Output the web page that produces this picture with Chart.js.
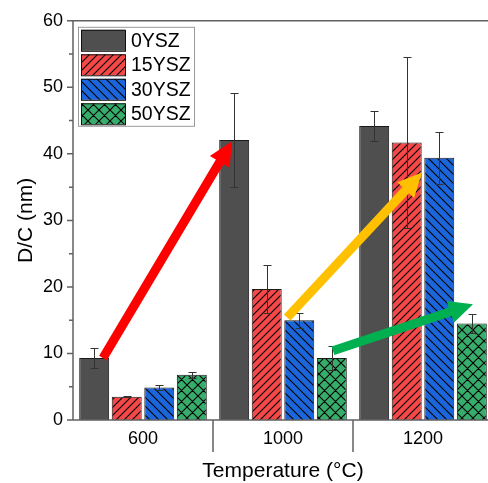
<!DOCTYPE html>
<html>
<head>
<meta charset="utf-8">
<script src="https://cdn.jsdelivr.net/npm/chart.js@4"></script>
<style>
  html, body { margin: 0; padding: 0; overflow: hidden; background: #fff; }
  #wrap { width: 500px; height: 483px; }
</style>
</head>
<body>
<div id="wrap"><canvas id="chart" width="500" height="483"></canvas></div>
<script>
// ------------------------
// Data
// ------------------------
const temps = ['600', '1000', '1200']
const seriesNames = ['0YSZ', '15YSZ', '30YSZ', '50YSZ']

const ysz0 = [9.3, 42.1, 44.2]
const ysz15 = [3.5, 19.7, 41.7]
const ysz30 = [4.9, 15.0, 39.4]
const ysz50 = [6.8, 9.3, 14.5]

const err0 = [1.5, 7.1, 2.3]
const err15 = [0.1, 3.6, 12.8]
const err30 = [0.35, 1.1, 3.9]
const err50 = [0.45, 1.8, 1.4]

const yTicks = [0, 10, 20, 30, 40, 50, 60]

// arrows, in [category position, value]
const arrowColors = ['#ff0000', '#ffc000', '#00b050']
const arrowFrom = [[-0.286, 9.3], [1.03, 15.4], [1.357, 10.4]]
const arrowTo = [[0.636, 41.9], [1.993, 37.2], [2.357, 17.4]]

const FONT = "'Liberation Sans', Arial, sans-serif"

// ------------------------
// Helpers
// ------------------------
const hatch = (bg, size, dirs) => {
  const c = document.createElement('canvas')
  c.width = c.height = size
  const g = c.getContext('2d')
  g.fillStyle = bg
  g.fillRect(0, 0, size, size)
  if (dirs.length) {
    g.strokeStyle = '#000'
    g.lineWidth = 1.1
    g.beginPath()
    if (dirs.includes('/')) {
      g.moveTo(0, size); g.lineTo(size, 0)
      g.moveTo(-1, 1); g.lineTo(1, -1)
      g.moveTo(size - 1, size + 1); g.lineTo(size + 1, size - 1)
    }
    if (dirs.includes('\\')) {
      g.moveTo(0, 0); g.lineTo(size, size)
      g.moveTo(size - 1, -1); g.lineTo(size + 1, 1)
      g.moveTo(-1, size - 1); g.lineTo(1, size + 1)
    }
    g.stroke()
  }
  return document.createElement('canvas').getContext('2d').createPattern(c, 'repeat')
}

const fills = [
  '#4f4f4f',
  hatch('#f64848', 8, ['/']),
  hatch('#1c66dc', 9, ['\\']),
  hatch('#36ad6b', 11, ['/', '\\']),
]
const errs = [err0, err15, err30, err50]

const extras = {
  id: 'extras',
  afterDatasetsDraw (chart) {
    const { ctx, scales: { x, y } } = chart
    ctx.save()
    // error bars
    ctx.strokeStyle = '#333'
    ctx.lineWidth = 1
    chart.data.datasets.forEach((ds, i) => {
      chart.getDatasetMeta(i).data.forEach((bar, j) => {
        const v = ds.data[j]
        const e = errs[i][j]
        const yt = Math.round(y.getPixelForValue(v + e)) + 0.5
        const yb = Math.round(y.getPixelForValue(v - e)) + 0.5
        const bx = Math.round(bar.x) + 0.5
        ctx.beginPath()
        ctx.moveTo(bx, yt); ctx.lineTo(bx, yb)
        ctx.moveTo(bx - 4, yt); ctx.lineTo(bx + 4, yt)
        ctx.moveTo(bx - 4, yb); ctx.lineTo(bx + 4, yb)
        ctx.stroke()
      })
    })
    // arrows
    arrowColors.forEach((col, k) => {
      const x0 = x.getPixelForValue(arrowFrom[k][0])
      const y0 = y.getPixelForValue(arrowFrom[k][1])
      const x1 = x.getPixelForValue(arrowTo[k][0])
      const y1 = y.getPixelForValue(arrowTo[k][1])
      const len = Math.hypot(x1 - x0, y1 - y0)
      const ux = (x1 - x0) / len
      const uy = (y1 - y0) / len
      const px = -uy
      const py = ux
      const hl = 24
      const hw = 11.5
      const sw = 4.5
      const bx = x1 - ux * hl
      const by = y1 - uy * hl
      ctx.fillStyle = col
      ctx.beginPath()
      ctx.moveTo(x0 + px * sw, y0 + py * sw)
      ctx.lineTo(bx + px * sw, by + py * sw)
      ctx.lineTo(bx + px * hw, by + py * hw)
      ctx.lineTo(x1, y1)
      ctx.lineTo(bx - px * hw, by - py * hw)
      ctx.lineTo(bx - px * sw, by - py * sw)
      ctx.lineTo(x0 - px * sw, y0 - py * sw)
      ctx.closePath()
      ctx.fill()
    })
    ctx.restore()
  },
  afterDraw (chart) {
    const { ctx, chartArea: a, scales: { x, y } } = chart
    ctx.save()
    ctx.strokeStyle = '#616161'
    ctx.lineWidth = 1.5
    ctx.beginPath()
    ctx.moveTo(a.left, a.top); ctx.lineTo(a.left, a.bottom)
    ctx.moveTo(a.left - 6, a.bottom); ctx.lineTo(a.right, a.bottom)
    ctx.moveTo(a.left, a.top); ctx.lineTo(a.right, a.top)
    // y ticks, major and minor
    yTicks.forEach((t, i) => {
      const py = y.getPixelForValue(t)
      ctx.moveTo(a.left - 6, py); ctx.lineTo(a.left, py)
      if (i < yTicks.length - 1) {
        const pm = y.getPixelForValue(t + 5)
        ctx.moveTo(a.left - 4, pm); ctx.lineTo(a.left, pm)
      }
    })
    // category separators
    for (let i = 0; i < temps.length - 1; i++) {
      const px = x.getPixelForValue(i + 0.5)
      ctx.moveTo(px, a.bottom); ctx.lineTo(px, a.bottom + 32)
    }
    ctx.stroke()

    // legend
    const lx = a.left + 5
    const ly = a.top + 6
    ctx.fillStyle = '#fff'
    ctx.fillRect(lx, ly, 116, 99)
    ctx.strokeStyle = '#9a9a9a'
    ctx.lineWidth = 1
    ctx.strokeRect(lx + 0.5, ly + 0.5, 116, 99)
    ctx.font = `19.5px ${FONT}`
    ctx.textBaseline = 'middle'
    seriesNames.forEach((name, i) => {
      const ry = ly + 3 + i * 24.5
      ctx.fillStyle = fills[i]
      ctx.fillRect(lx + 3, ry, 44, 21)
      ctx.strokeStyle = '#111'
      ctx.strokeRect(lx + 3.5, ry + 0.5, 44, 21)
      ctx.fillStyle = '#000'
      ctx.fillText(name, lx + 53, ry + 11.5)
    })
    ctx.restore()
  },
}

// ------------------------
// Chart
// ------------------------
const element = document.querySelector('#chart')

const values = [ysz0, ysz15, ysz30, ysz50]

new Chart(element, {
  type: 'bar',

  data: {
    labels: temps,
    datasets: seriesNames.map((name, i) => ({
      label: name,
      data: values[i],
      backgroundColor: fills[i],
      borderColor: '#1a1a1a',
      borderWidth: 1,
      categoryPercentage: 0.93,
      barPercentage: 0.92,
    })),
  },

  options: {
    responsive: false,
    devicePixelRatio: 1,
    animation: false,
    layout: { padding: { left: 0, top: 15, right: 7, bottom: 0 } },

    scales: {
      x: {
        grid: { display: false, drawTicks: false },
        border: { display: false },
        ticks: { padding: 8, color: '#000', font: { family: FONT, size: 18 } },
        title: {
          display: true,
          text: 'Temperature (°C)',
          color: '#000',
          font: { family: FONT, size: 21 },
          padding: { top: 0, bottom: -1 },
        },
        afterFit: (s) => { s.height = 63 },
      },
      y: {
        min: 0,
        max: 60,
        grid: { display: false, drawTicks: false },
        border: { display: false },
        ticks: {
          stepSize: 10,
          padding: 10,
          autoSkip: false,
          color: '#000',
          font: { family: FONT, size: 18 },
        },
        title: {
          display: true,
          text: 'D/C (nm)',
          color: '#000',
          font: { family: FONT, size: 21 },
          padding: { top: 14, bottom: 0 },
        },
        afterFit: (s) => { s.width = 73 },
      },
    },

    plugins: {
      legend: { display: false },
      tooltip: { enabled: false },
    },
  },

  plugins: [extras],
})
</script>
</body>
</html>
